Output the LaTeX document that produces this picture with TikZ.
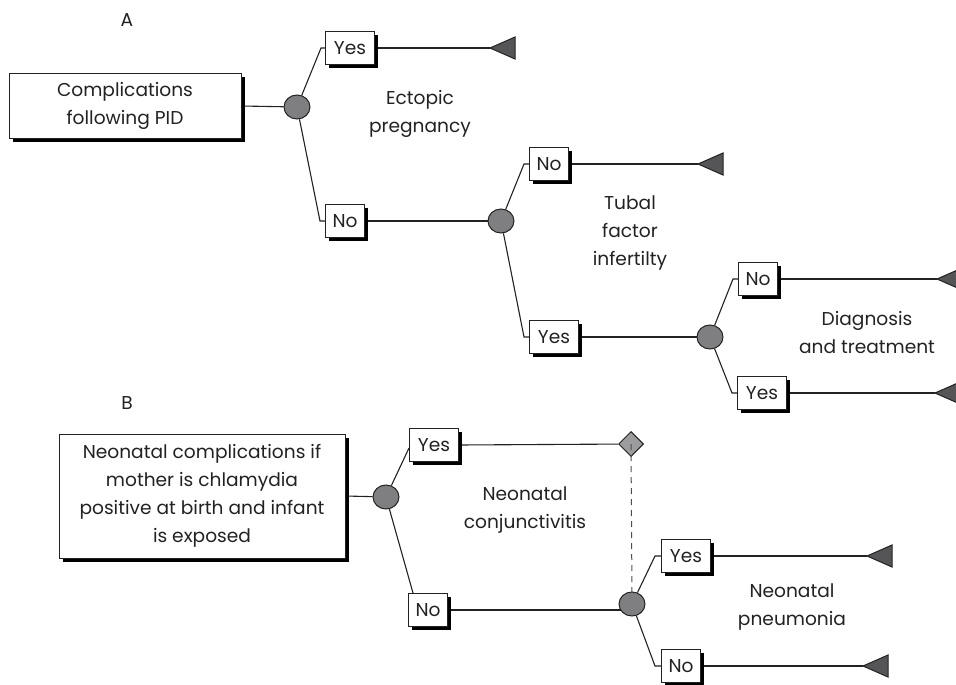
\documentclass[tikz,border=0pt]{standalone}
\usepackage{fontspec}
\setmainfont{Poppins}
\usetikzlibrary{shapes.geometric,shadows}
\pgfdeclarelayer{bg}
\pgfsetlayers{bg,main}
\definecolor{chancegray}{HTML}{7F7F81}
\definecolor{termgray}{HTML}{555557}
\definecolor{diagray}{HTML}{9C9C9E}
\definecolor{ink}{HTML}{222222}
\begin{document}
\begin{tikzpicture}[x=1pt,y=-1pt,
  font=\fontsize{18.6}{28}\selectfont,
  every node/.style={text=ink},
  box/.style={draw=ink, line width=1pt, fill=white, align=center, inner sep=0pt,
    drop shadow={shadow xshift=3.5pt, shadow yshift=-3.5pt, fill=black, opacity=1}},
  yesb/.style={box, minimum height=33pt, minimum width=49pt},
  nob/.style={box, minimum height=33pt, minimum width=39pt},
  chance/.style={ellipse, draw=ink, line width=1pt, fill=chancegray, minimum width=26pt, minimum height=24pt, inner sep=0pt},
  decis/.style={diamond, draw=ink, line width=1pt, fill=diagray, minimum width=25pt, minimum height=25pt, inner sep=0pt},
  link/.style={draw=ink, line width=1.1pt},
  term/.style={draw=ink, line width=1pt, fill=termgray, line join=miter},
  lbl/.style={align=center, inner sep=0pt}
]
\useasboundingbox (0,0) rectangle (956,685);

% ---------- Part A ----------
\node[lbl] (labA) at (127,20) {A};
\node[box, minimum width=232pt, minimum height=64pt] (root) at (125,106)
  {Complications\\following PID};
\node[chance] (c1) at (297,107) {};
\node[yesb] (yes1) at (350,48) {Yes};
\node[nob] (no1) at (345,221) {No};
\coordinate (t1) at (490,48);
\node[lbl] (ect) at (420,114) {Ectopic\\pregnancy};

\node[chance] (c2) at (501,221) {};
\node[nob] (no2) at (549,164) {No};
\node[yesb] (yes2) at (554,337) {Yes};
\coordinate (t2) at (698,164);
\node[lbl] (tub) at (630,233) {Tubal\\factor\\infertilty};

\node[chance] (c3) at (710,337) {};
\node[nob] (no3) at (758,279) {No};
\node[yesb] (yes3) at (762,393) {Yes};
\coordinate (t3) at (937,279);
\coordinate (t4) at (935,393);
\node[lbl] (diag) at (867,333) {Diagnosis\\and treatment};

% ---------- Part B ----------
\node[lbl] (labB) at (127,403) {B};
\node[box, minimum width=286pt, minimum height=124pt] (root2) at (202,496)
  {Neonatal complications if\\mother is chlamydia\\positive at birth and infant\\is exposed};
\node[chance] (c4) at (386,497) {};
\node[yesb] (yes4) at (434,445) {Yes};
\node[nob] (no4) at (428,610) {No};
\node[decis] (d1) at (631,444) {};
\node[lbl] (conj) at (525,510) {Neonatal\\conjunctivitis};

\node[chance] (c5) at (632,604) {};
\node[yesb] (yes5) at (686,556) {Yes};
\node[nob] (no5) at (681,666) {No};
\coordinate (t5) at (867,556);
\coordinate (t6) at (863,666);
\node[lbl] (pneu) at (792,607) {Neonatal\\pneumonia};

% ---------- connectors ----------
\begin{pgfonlayer}{bg}
\draw[link] (root.east) -- (c1);
\draw[link] (c1) -- ([xshift=-4pt]yes1.west) -- (yes1.west);
\draw[link] (c1) -- ([xshift=-5pt]no1.west) -- (no1.west);
\draw[link] (yes1.east) -- (t1);
\draw[link] (no1.east) -- (c2);
\draw[link] (c2) -- ([xshift=-5pt]no2.west) -- (no2.west);
\draw[link] (c2) -- ([xshift=-5pt]yes2.west) -- (yes2.west);
\draw[link] (no2.east) -- (t2);
\draw[link] (yes2.east) -- (c3);
\draw[link] (c3) -- ([xshift=-5pt]no3.west) -- (no3.west);
\draw[link] (c3) -- ([xshift=-5pt]yes3.west) -- (yes3.west);
\draw[link] (no3.east) -- (t3);
\draw[link] (yes3.east) -- (t4);

\draw[link] (root2.east) -- (c4);
\draw[link] (c4) -- ([yshift=-3pt]yes4.west);
\draw[link] (c4) -- ([xshift=5pt]no4.north west);
\draw[link] (yes4.east) -- (d1);
\draw[link] (no4.east) -- (c5.center |- no4.east);
\draw[link] (c5) -- ([xshift=-6pt]yes5.west) -- (yes5.west);
\draw[link] (c5) -- ([xshift=-6pt]no5.west) -- (no5.west);
\draw[link] (yes5.east) -- (t5);
\draw[link] (no5.east) -- (t6);
\end{pgfonlayer}

\draw[draw=ink!80, line width=1pt, dash pattern=on 6pt off 5pt] (d1.center) -- ([yshift=-6pt]c5.north);

% ---------- terminal triangles ----------
\foreach \t in {t1,t2,t3,t4,t5,t6}
  \draw[term] (\t) -- ++(25,-11) -- ++(0,22) -- cycle;
\end{tikzpicture}
\end{document}
